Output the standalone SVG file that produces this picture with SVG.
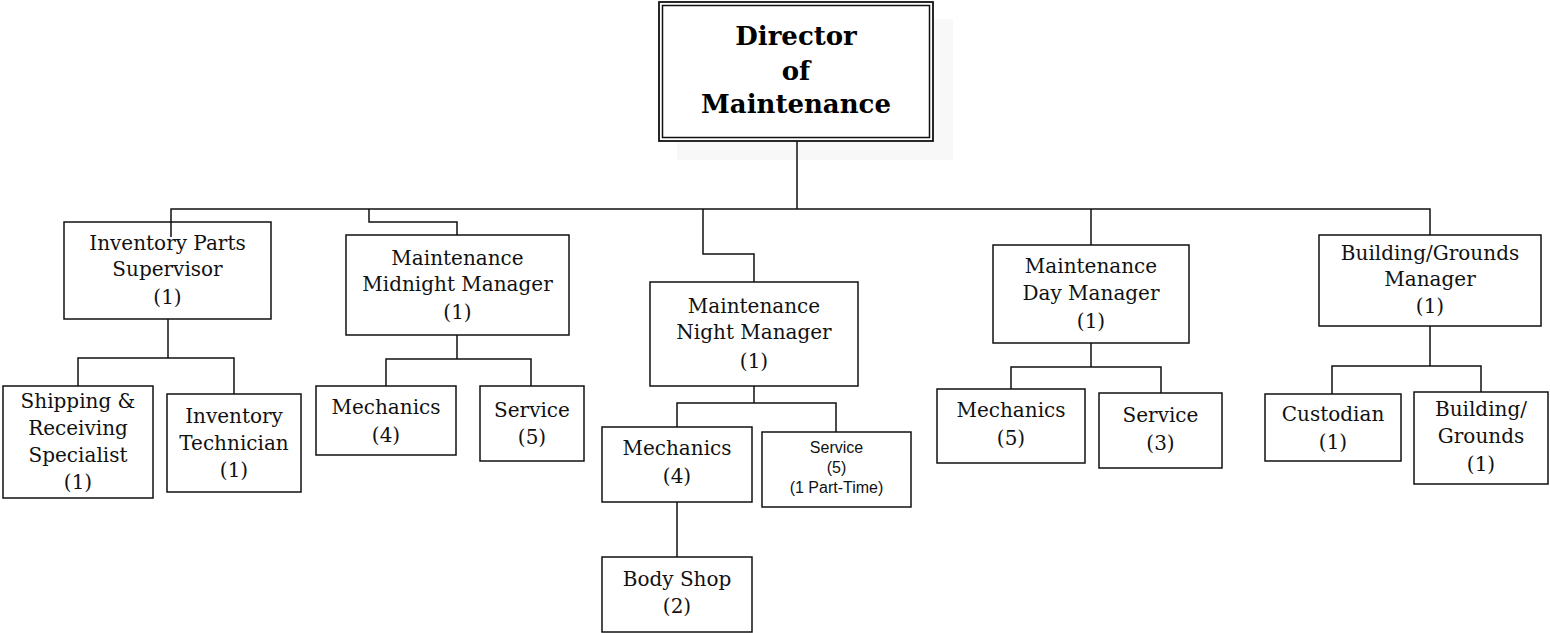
<svg xmlns="http://www.w3.org/2000/svg" width="1550" height="633" viewBox="0 0 1550 633">
<style>
.box{fill:#fff;stroke:#111;stroke-width:1.5}
.t{font-family:"DejaVu Serif","Liberation Serif",serif;font-size:20px;fill:#111;text-anchor:middle}
.tb{font-family:"DejaVu Serif","Liberation Serif",serif;font-size:26px;font-weight:bold;fill:#000;text-anchor:middle}
.ts{font-family:"Liberation Sans",Arial,sans-serif;font-size:16px;fill:#111;text-anchor:middle}
.c{fill:none;stroke:#111;stroke-width:1.5}
</style>
<rect x="677" y="19" width="276" height="141" fill="#f8f8f8"/>
<g id="director">
<rect x="659" y="2" width="274" height="139" fill="#fff" stroke="#111" stroke-width="1.8"/>
<rect x="662.5" y="5.5" width="267" height="132" fill="none" stroke="#111" stroke-width="1.5"/>
<text class="tb" x="796" y="45">Director</text>
<text class="tb" x="796" y="80">of</text>
<text class="tb" x="796" y="113">Maintenance</text>
</g>
<g id="inventory-parts-supervisor">
<rect class="box" x="64" y="222" width="207" height="97"/>
<text class="t" x="167.5" y="250">Inventory Parts</text>
<text class="t" x="167.5" y="276">Supervisor</text>
<text class="t" x="167.5" y="304">(1)</text>
</g>
<g id="shipping-receiving">
<rect class="box" x="3" y="386" width="150" height="112"/>
<text class="t" x="78" y="408">Shipping &amp;</text>
<text class="t" x="78" y="435">Receiving</text>
<text class="t" x="78" y="462">Specialist</text>
<text class="t" x="78" y="489">(1)</text>
</g>
<g id="inventory-technician">
<rect class="box" x="167" y="394" width="134" height="98"/>
<text class="t" x="234" y="423">Inventory</text>
<text class="t" x="234" y="450">Technician</text>
<text class="t" x="234" y="477">(1)</text>
</g>
<g id="midnight-manager">
<rect class="box" x="346" y="235" width="223" height="100"/>
<text class="t" x="457.5" y="265">Maintenance</text>
<text class="t" x="457.5" y="291">Midnight Manager</text>
<text class="t" x="457.5" y="319">(1)</text>
</g>
<g id="midnight-mechanics">
<rect class="box" x="316" y="386" width="140" height="69"/>
<text class="t" x="386" y="414">Mechanics</text>
<text class="t" x="386" y="442">(4)</text>
</g>
<g id="midnight-service">
<rect class="box" x="480" y="386" width="104" height="75"/>
<text class="t" x="532" y="417">Service</text>
<text class="t" x="532" y="444">(5)</text>
</g>
<g id="night-manager">
<rect class="box" x="650" y="282" width="208" height="104"/>
<text class="t" x="754" y="313">Maintenance</text>
<text class="t" x="754" y="339">Night Manager</text>
<text class="t" x="754" y="368">(1)</text>
</g>
<g id="night-mechanics">
<rect class="box" x="602" y="427" width="150" height="75"/>
<text class="t" x="677" y="455">Mechanics</text>
<text class="t" x="677" y="483">(4)</text>
</g>
<g id="night-service">
<rect class="box" x="762" y="432" width="149" height="75"/>
<text class="ts" x="836.5" y="453">Service</text>
<text class="ts" x="836.5" y="473">(5)</text>
<text class="ts" x="836.5" y="493">(1 Part-Time)</text>
</g>
<g id="body-shop">
<rect class="box" x="602" y="557" width="150" height="75"/>
<text class="t" x="677" y="586">Body Shop</text>
<text class="t" x="677" y="613">(2)</text>
</g>
<g id="day-manager">
<rect class="box" x="993" y="245" width="196" height="98"/>
<text class="t" x="1091" y="273">Maintenance</text>
<text class="t" x="1091" y="300">Day Manager</text>
<text class="t" x="1091" y="328">(1)</text>
</g>
<g id="day-mechanics">
<rect class="box" x="937" y="389" width="148" height="74"/>
<text class="t" x="1011" y="417">Mechanics</text>
<text class="t" x="1011" y="445">(5)</text>
</g>
<g id="day-service">
<rect class="box" x="1099" y="393" width="123" height="75"/>
<text class="t" x="1160.5" y="422">Service</text>
<text class="t" x="1160.5" y="450">(3)</text>
</g>
<g id="building-grounds-manager">
<rect class="box" x="1319" y="235" width="222" height="91"/>
<text class="t" x="1430" y="260">Building/Grounds</text>
<text class="t" x="1430" y="286">Manager</text>
<text class="t" x="1430" y="313">(1)</text>
</g>
<g id="custodian">
<rect class="box" x="1265" y="394" width="136" height="67"/>
<text class="t" x="1333" y="421">Custodian</text>
<text class="t" x="1333" y="449">(1)</text>
</g>
<g id="building-grounds">
<rect class="box" x="1414" y="392" width="134" height="92"/>
<text class="t" x="1481" y="416">Building/</text>
<text class="t" x="1481" y="443">Grounds</text>
<text class="t" x="1481" y="471">(1)</text>
</g>
<g id="connectors">
<path class="c" d="M797 141V209"/>
<path class="c" d="M171 237V209H1430V235"/>
<path class="c" d="M369 209V222H457V235"/>
<path class="c" d="M703 209V254H754V282"/>
<path class="c" d="M1091 209V245"/>
<path class="c" d="M168 319V358M78 386V358H234V394"/>
<path class="c" d="M457 335V359M386 386V359H531V386"/>
<path class="c" d="M754 386V403M677 427V403H836V432"/>
<path class="c" d="M677 502V557"/>
<path class="c" d="M1091 343V367M1011 389V367H1161V393"/>
<path class="c" d="M1430 326V366M1332 394V366H1481V392"/>
</g>
</svg>
